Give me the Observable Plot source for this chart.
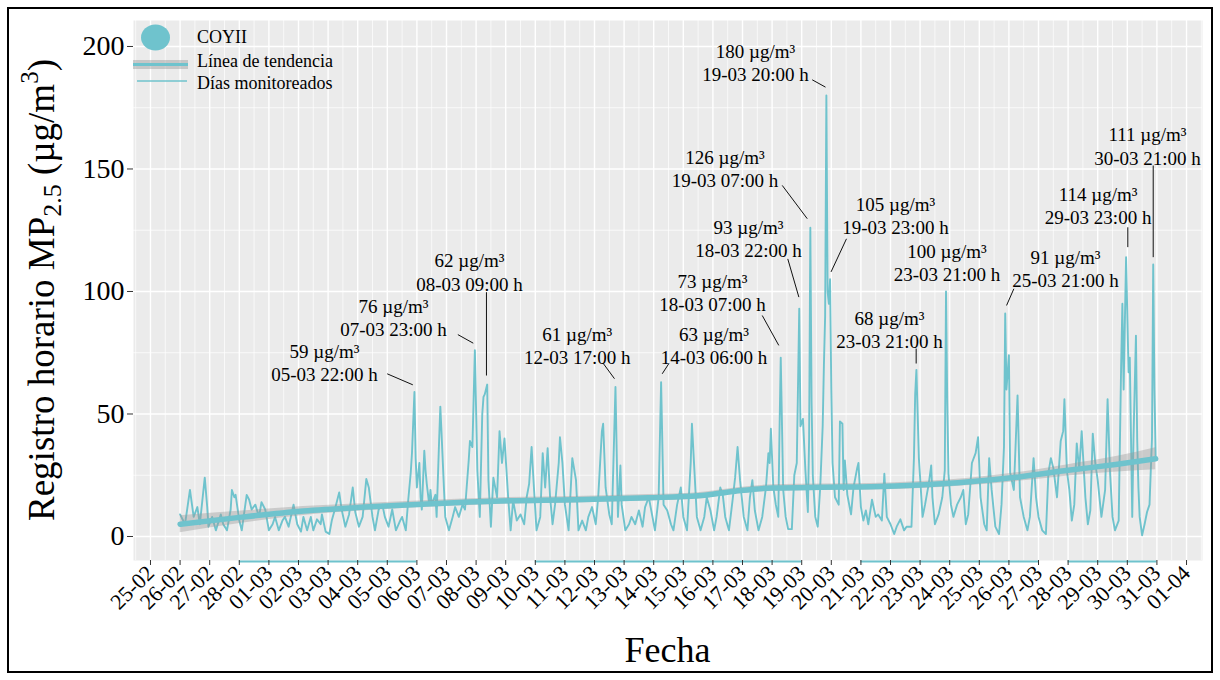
<!DOCTYPE html>
<html>
<head>
<meta charset="utf-8">
<script src="https://cdn.jsdelivr.net/npm/d3@7"></script>
<script src="https://cdn.jsdelivr.net/npm/@observablehq/plot@0.6"></script>
<style>
  body { margin: 0; background: #fff; }
  #chart { position: relative; width: 1220px; height: 680px; }
</style>
</head>
<body>
<div id="chart"></div>
<script>
// ---------- DATA ----------
// Hourly PM2.5 readings: [hours since 26-02 00:00, µg/m³]
const hourlyReadings = [
[0,9],[4,5],[8,19],[11,8],[14,12],[16,5],[20,24],[22,12],[23,4],[26,8],[29,2.5],[33,9],[35,5],[38,2.5],[41,11],[42,19],[44,16],[45,17],[48,6.5],[50,2.5],[54,17],[56,15],[58,11],[61,13],[64,8],[66,14],[69,11],[72,2.5],[75,5],[77,8],[80,2.5],[83,6.5],[85,8],[88,4],[92,13],[95,5],[98,2],[100,8],[103,2.5],[106,8],[108,2.5],[111,7],[114,5],[115,9],[118,2],[121,1],[123,6.5],[126,12],[129,18],[131,11],[134,4],[137,9],[140,20],[142,10],[145,4],[148,8],[151,23.5],[153,20],[156,8],[158,2.5],[161,11],[164,13],[166,8],[169,4],[172,11],[175,2.5],[178,6],[180,8],[183,2.5],[185,15],[187,26],[188,34],[190,59],[191,32],[192,20],[194,30],[195,16],[196,11],[198,35],[199,27],[200,21.5],[202,13],[203,19],[204,13],[207,17],[208,8],[210,39],[211,53],[212,42],[214,19],[215,8],[218,2.5],[221,8],[223,12],[226,8],[229,13],[231,11],[234,31],[235,39],[237,36.5],[239,76],[241,27],[243,8],[245,50],[246,57],[247,58],[249,62],[250,23],[252,4],[254,24],[257,16],[259,43],[261,30],[263,40],[266,16],[268,2.5],
[270,14.7],[273,6.5],[276,9],[279,5],[281,16],[283,21.5],[285,36.5],[287,19],[289,2.5],[292,8],[294,34],[296,20],[298,36],[300,16],[302,5],[304,13],[307,30],[308,40.5],[310,30],[312,13],[315,2.5],[318,32],[321,23],[323,2.5],[326,6.5],[329,2.5],[331,8],[334,12],[337,5],[339,16],[342,43],[343,46],[345,20],[348,9],[350,5],[353,61],[355,8],[357,29],[358,13],[361,2.5],[364,5],[366,8],[369,5],[372,10.6],[375,4],[377,12],[380,16],[383,8],[385,2.5],[388,16],[390,63],[392,13],[395,10.6],[398,5],[400,2.5],[403,13],[406,20],[408,8],[411,2.5],[414,30],[415,46],[417,27],[419,8],[422,2.5],[425,8],[427,16],[430,10.6],[433,2.5],[435,8],[438,20],[440,17],[442,8],[445,2.5],[448,15],[450,24],[452,36.5],[454,23],[457,8],[460,2.5],[462,16],[464,23],[466,10.6],[469,2.5],[472,8],[475,20],[477,34],[478,30],[479,44],[481,20],[483,13],[485,8],[486,43],[487,73],[489,19],[491,8],[493,3],[496,3],[498,25],[500,30],[502,93],[503,45],[505,48],[507,27],[509,10],[510,40],[511,126],[512,55],[513,25],[515,8],[517,4],[519,20],[521,45],[522,70],[523,90],[524,180],[525,100],[526,95],[527,105],[528,60],[529,30],
[531,16],[534,13],[535,47],[537,46],[538,19],[539,31],[541,17],[544,9],[546,20],[549,28],[550,30],[552,12],[554,6.5],[556,10.6],[558,5],[561,15],[564,8],[566,9],[569,6.5],[571,25.6],[573,8],[576,5],[579,1],[581,4],[584,7],[587,2.5],[589,4],[593,4],[595,32],[596,58],[597,68],[599,32],[602,8],[604,13],[607,21.5],[609,29],[610,16],[612,5],[615,9],[618,16],[620,27],[621,100],[622,55],[623,25.6],[625,13],[627,8],[630,13],[633,16],[635,19],[637,5],[639,9],[642,30],[645,34],[647,40.5],[649,16],[652,5],[654,2.5],[656,32],[658,19],[661,4],[664,1],[666,13],[668,36.5],[669,91],[670,60],[672,74],[673,26],[676,19],[679,57.6],[681,16],[684,8],[687,2.5],[689,8],[692,32],[694,16],[696,8],[699,2.5],[702,1],[704,26],[706,32],[708,28],[711,16],[714,39],[716,43],[717,56],[719,27],[721,19],[723,6.5],[725,13],[727,38],[729,27],[731,43],[734,16],[736,5],[738,10.6],[740,42],[742,30],[744,23],[747,8],[750,19],[752,56],[754,26],[756,8],[758,2.5],[761,6.5],[763,70],[764,95],[765,60],[767,114],[769,67],[770,73],[771,40],[772,8],[773,40],[775,82],[776,40],[777,20],[778,8],[780,0.5],[782,5],[784,10],[786,13],[788,40],[789,111],[790,60],[791,32]
];

// Trend line (smooth fit) and its confidence half-width
const trendHours = [0,50,100,150,200,260,320,380,420,450,480,520,560,600,640,680,720,760,791];
const trendValues = [5.0,7.9,10.4,12.0,13.3,14.5,15.0,15.8,16.6,18.5,19.8,20.1,20.3,21.0,22.3,24.3,27.0,29.5,31.7];
const trendSE = [3.5,2.5,1.8,1.5,1.4,1.3,1.3,1.3,1.3,1.3,1.3,1.3,1.3,1.4,1.5,1.8,2.3,3.2,4.5];

// Monitored day spans
const monitoredStart = ["2023-02-28","2023-03-10","2023-03-21","2023-03-28"];
const monitoredEnd   = ["2023-03-06","2023-03-19","2023-03-27","2023-03-31"];

// Annotated peaks
const peakValues = [59,76,62,61,63,73,93,126,180,105,100,68,91,114,111];
const peakStamps = ["05-03 22:00","07-03 23:00","08-03 09:00","12-03 17:00","14-03 06:00","18-03 07:00","18-03 22:00","19-03 07:00","19-03 20:00","19-03 23:00","23-03 21:00","23-03 21:00","25-03 21:00","29-03 23:00","30-03 21:00"];
// label placement [hour, value] (repelled label centres)
const labelPlacement = [[117.1,71.1],[173,89.6],[234.7,108.2],[322,78.1],[432.9,78.1],[431.7,99.9],[460.9,121.8],[441.8,150.3],[466.5,193.7],[580,131.1],[621.8,112],[575.2,84.8],[717.9,109.6],[744.3,135.4],[784.4,159.6]];
// leader segments [h1, v1, h2, v2]
const leaderSegments = [[167.9,66.4,188.7,61.9],[225.2,82.4,237.7,78.9],[248.4,99.7,248.4,65.7],[343,70.7,352.2,64.4],[396.2,70.5,390.9,66.4],[472,90.2,485.4,78],[492.7,113.3,501.7,97.7],[488.2,143.3,508.5,129.7],[512.5,186.4,523.3,183.4],[540.3,121.5,527.8,108],null,[596.8,76.7,596.8,70.6],[676,101.1,670.1,94.3],[768.4,126.2,768.4,118.1],[789,151.4,789,114]];

const yTicks = [0,50,100,150,200];
const yMinor = [25,75,125,175];

// ---------- BUILD ----------
const TEAL = "#6fc3cd";
const FONT = "Liberation Serif";
const BASE = Date.UTC(2023,1,26);
const HOUR = 3600e3, DAY = 86400e3;
const toDate = h => new Date(BASE + h*HOUR);

const series = hourlyReadings.map(([h,v]) => ({date: toDate(h), v}));
const trend = trendHours.map((h,i) => ({date: toDate(h), v: trendValues[i], lo: trendValues[i]-trendSE[i], hi: trendValues[i]+trendSE[i]}));
const monitored = monitoredStart.map((s,i) => ({start: new Date(s+"T00:00Z"), end: new Date(monitoredEnd[i]+"T00:00Z")}));
const labels = peakValues.map((v,i) => ({date: toDate(labelPlacement[i][0]), v: labelPlacement[i][1], text: `${v} µg/m³\n${peakStamps[i]} h`}));
const leaders = leaderSegments.filter(d => d).map(d => ({x1: toDate(d[0]), y1: d[1], x2: toDate(d[2]), y2: d[3]}));

const xDomain = [new Date(Date.UTC(2023,1,25) - 0.574*DAY), new Date(Date.UTC(2023,3,1) + 0.54*DAY)];
const yDomain = [-9.8, 210.6];
const xTicks = d3.utcDay.range(new Date(Date.UTC(2023,1,25)), new Date(Date.UTC(2023,3,2)));
const xMinor = d3.utcDay.range(new Date(Date.UTC(2023,1,24)), new Date(Date.UTC(2023,3,2))).map(d => new Date(+d + DAY/2)).filter(d => d >= xDomain[0] && d <= xDomain[1]);

const plot = Plot.plot({
  width: 1220, height: 680,
  marginLeft: 133, marginRight: 18, marginTop: 20, marginBottom: 120,
  style: {fontFamily: FONT, background: "white", color: "black"},
  x: {type: "utc", domain: xDomain},
  y: {domain: yDomain},
  marks: [
    Plot.frame({fill: "#EBEBEB", stroke: null}),
    Plot.ruleX(xMinor, {stroke: "white", strokeWidth: 0.7}),
    Plot.ruleY(yMinor, {stroke: "white", strokeWidth: 0.7}),
    Plot.ruleX(xTicks, {stroke: "white", strokeWidth: 1.4}),
    Plot.ruleY(yTicks, {stroke: "white", strokeWidth: 1.4}),
    Plot.line(series, {x: "date", y: "v", stroke: TEAL, strokeWidth: 1.9}),
    Plot.areaY(trend, {x: "date", y1: "lo", y2: "hi", fill: "#999999", fillOpacity: 0.4, curve: "monotone-x"}),
    Plot.line(trend, {x: "date", y: "v", stroke: TEAL, strokeWidth: 5.5, curve: "monotone-x"}),
    Plot.link(leaders, {x1: "x1", y1: "y1", x2: "x2", y2: "y2", stroke: "#111", strokeWidth: 1}),
    Plot.text(labels, {x: "date", y: "v", text: "text", fontSize: 19, fontFamily: FONT, lineHeight: 1.23, fill: "black"}),
    Plot.ruleY(monitored, {x1: "start", x2: "end", y: () => yDomain[0], stroke: TEAL, strokeWidth: 2, dy: 1}),
    Plot.axisX(xTicks, {tickFormat: d3.utcFormat("%d-%m"), tickRotate: -45, tickSize: 5, tickPadding: 4, fontSize: 22, stroke: "#333", fill: "black", label: null}),
    Plot.axisY(yTicks, {tickSize: 6, tickPadding: 3, fontSize: 28, stroke: "#333", fill: "black", label: null})
  ]
});

const svg = d3.select(plot);
// Axis titles
const yt = svg.append("text")
  .attr("transform", "translate(46,290) rotate(-90)")
  .attr("text-anchor", "middle").attr("dominant-baseline", "middle")
  .attr("font-family", FONT).attr("font-size", 37).attr("fill", "black");
yt.append("tspan").text("Registro horario MP");
yt.append("tspan").attr("font-size", 26).attr("dy", 9).text("2.5");
yt.append("tspan").attr("dy", -9).text(" (µg/m");
yt.append("tspan").attr("font-size", 25).attr("dy", -14).text("3");
yt.append("tspan").attr("dy", 14).text(")");

svg.append("text").attr("x", 667.5).attr("y", 662).attr("text-anchor", "middle")
  .attr("font-family", FONT).attr("font-size", 36).attr("fill", "black").text("Fecha");

// Legend (inside panel, top-left)
const lg = svg.append("g").attr("font-family", FONT).attr("font-size", 18).attr("fill", "black").attr("text-anchor", "start");
lg.append("ellipse").attr("cx", 155.5).attr("cy", 37.5).attr("rx", 14.5).attr("ry", 13).attr("fill", TEAL);
lg.append("text").attr("x", 197).attr("y", 39).attr("text-anchor", "start").attr("dominant-baseline", "middle").text("COYII");
lg.append("rect").attr("x", 133).attr("y", 60).attr("width", 55).attr("height", 9).attr("fill", "#999999").attr("fill-opacity", 0.45);
lg.append("line").attr("x1", 133).attr("x2", 188).attr("y1", 64.5).attr("y2", 64.5).attr("stroke", TEAL).attr("stroke-width", 3);
lg.append("text").attr("x", 197).attr("y", 63).attr("text-anchor", "start").attr("dominant-baseline", "middle").text("Línea de tendencia");
lg.append("line").attr("x1", 137).attr("x2", 187).attr("y1", 81).attr("y2", 81).attr("stroke", TEAL).attr("stroke-width", 1.5);
lg.append("text").attr("x", 197).attr("y", 85).attr("text-anchor", "start").attr("dominant-baseline", "middle").text("Días monitoreados");

// Outer border
svg.append("rect").attr("x", 8).attr("y", 8).attr("width", 1204).attr("height", 664)
  .attr("fill", "none").attr("stroke", "black").attr("stroke-width", 2);

document.getElementById("chart").appendChild(plot);
</script>
</body>
</html>
